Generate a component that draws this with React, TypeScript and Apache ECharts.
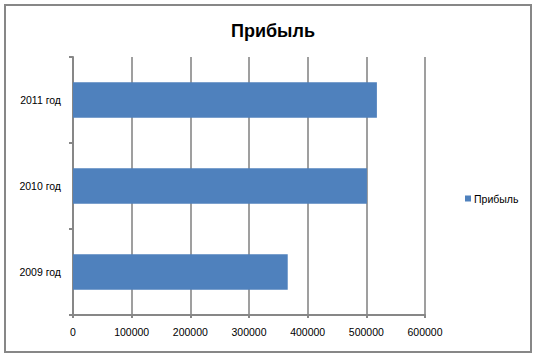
import React, { useEffect, useRef } from "react";
import * as echarts from "echarts";

const categories = ["2009 год", "2010 год", "2011 год"];
const profitValues = [366000, 501000, 518000];
const seriesName = "Прибыль";
const chartTitle = "Прибыль";
const xMin = 0;
const xMax = 600000;
const xInterval = 100000;

export default function App() {
  const ref = useRef<HTMLDivElement>(null);
  useEffect(() => {
    if (!ref.current) return;
    const chart = echarts.init(ref.current, null, { renderer: "svg" });
    const gray = "#878787";
    const font = "Liberation Sans";
    chart.setOption({
      animation: false,
      backgroundColor: "#ffffff",
      title: {
        text: chartTitle,
        left: 268,
        textAlign: "center",
        top: 17,
        textStyle: { fontFamily: font, fontSize: 18, fontWeight: "bold", color: "#000" },
      },
      legend: {
        left: 460,
        top: 188,
        itemWidth: 6,
        itemHeight: 6,
        itemGap: 5,
        icon: "rect",
        data: [seriesName],
        textStyle: { fontFamily: font, fontSize: 10.5, color: "#000", padding: [0, 0, 0, -2] },
      },
      grid: { left: 73, right: 113, top: 57, bottom: 42, containLabel: false },
      xAxis: {
        type: "value",
        min: xMin,
        max: xMax,
        interval: xInterval,
        axisLine: { show: true, lineStyle: { color: gray, width: 2 } },
        axisTick: { show: true, length: 3, lineStyle: { color: gray, width: 2 } },
        splitLine: { show: true, lineStyle: { color: gray, width: 1.6 } },
        axisLabel: {
          color: "#000",
          fontFamily: font,
          fontSize: 10.5,
          margin: 11,
          formatter: (v: number) => String(v),
        },
      },
      yAxis: {
        type: "category",
        data: categories,
        axisLine: { show: true, lineStyle: { color: gray, width: 2 } },
        axisTick: { show: true, length: 4, lineStyle: { color: gray, width: 2 } },
        axisLabel: { color: "#000", fontFamily: font, fontSize: 10.5, margin: 12 },
      },
      series: [
        {
          name: seriesName,
          type: "bar",
          data: profitValues,
          barWidth: "41%",
          itemStyle: { color: "#4F81BD" },
        },
      ],
      graphic: [
        {
          type: "rect",
          shape: { x: 5, y: 5, width: 526, height: 347 },
          style: { fill: "none", stroke: gray, lineWidth: 2 },
          silent: true,
        },
      ],
    });
    return () => chart.dispose();
  }, []);
  return (
    <div
      ref={ref}
      style={{ position: "fixed", left: 0, top: 0, width: 538, height: 357 }}
    />
  );
}
